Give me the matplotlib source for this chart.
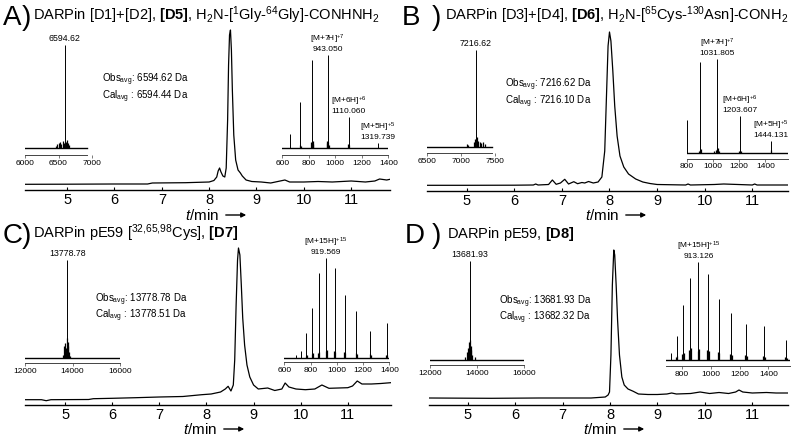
import matplotlib
matplotlib.use('Agg')
import matplotlib.pyplot as plt

plt.rcParams['font.family'] = ['Liberation Sans', 'DejaVu Sans']
plt.rcParams['mathtext.fontset'] = 'custom'
plt.rcParams['mathtext.rm'] = 'Liberation Sans'
plt.rcParams['mathtext.it'] = 'Liberation Sans:italic'
plt.rcParams['mathtext.bf'] = 'Liberation Sans:bold'

W, H = 800, 438

# ---- HPLC traces (retention time / min, signal in arbitrary units) ----
tA = [4.10, 5.0, 6.0, 6.7, 6.8, 7.5, 8.0, 8.10, 8.16, 8.19, 8.22, 8.25, 8.29, 8.33,
      8.36, 8.39, 8.41, 8.43, 8.45, 8.47, 8.49, 8.52, 8.56, 8.61, 8.66, 8.70, 8.78,
      8.90, 9.1, 9.3, 9.4, 9.6, 9.7, 10.0, 10.3, 10.6, 11.0, 11.3, 11.5, 11.6, 11.75, 11.85]
sA = [5.7, 5.8, 6.0, 6.0, 7.0, 7.3, 8.0, 9.5, 13, 19, 22, 18, 14, 13,
      22, 70, 125, 155, 160, 140, 100, 55, 30, 20, 17, 14, 10,
      8.5, 8, 7, 8, 10, 8, 8, 8.5, 8, 9, 8, 9, 11, 10, 11]

tB = [4.16, 5.0, 6.0, 6.40, 6.45, 6.5, 6.72, 6.80, 6.88, 6.97, 7.06, 7.14, 7.25, 7.33,
      7.42, 7.48, 7.56, 7.66, 7.76, 7.84, 7.90, 7.94, 7.97, 8.00, 8.03, 8.07, 8.11,
      8.16, 8.22, 8.30, 8.40, 8.55, 8.70, 8.85, 9.0, 9.6, 9.65, 9.7, 10.2, 10.4, 11.0,
      11.05, 11.1, 11.75]
sB = [5.7, 5.7, 5.8, 6, 7, 6, 6.5, 11, 6.7, 8, 11.7, 7, 9.3, 7.3,
      8.5, 8, 9.5, 8, 9, 14, 40, 100, 145, 159, 150, 120, 85,
      55, 35, 24, 17, 12, 9, 7.5, 6.5, 6, 7, 6, 6.5, 7, 6,
      7, 6, 6]

tC = [4.15, 4.5, 4.6, 4.7, 5.5, 5.6, 6.0, 6.5, 7.0, 7.5, 7.9, 8.1, 8.3, 8.40, 8.46,
      8.52, 8.57, 8.60, 8.63, 8.66, 8.68, 8.71, 8.74, 8.77, 8.81, 8.86, 8.92, 9.0,
      9.1, 9.3, 9.45, 9.6, 9.67, 9.75, 9.9, 10.1, 10.3, 10.45, 10.6, 10.8, 11.0, 11.1,
      11.2, 11.3, 11.5, 11.7, 11.91]
sC = [5.3, 5.3, 4.3, 5.3, 5.5, 6.3, 6.7, 7.3, 8, 8.5, 10.3, 11, 13, 16, 18.7,
      14, 20, 45, 100, 145, 157, 150, 120, 87, 60, 40, 28, 20,
      16, 17, 14.5, 16, 22, 18, 16, 15.3, 16, 20, 16.7, 17, 17.3, 19,
      24, 21, 21, 21.5, 22.3]

tD = [4.19, 5.0, 5.5, 6.5, 7.6, 7.9, 7.96, 7.99, 8.02, 8.05, 8.08, 8.10, 8.13, 8.16,
      8.20, 8.25, 8.30, 8.38, 8.49, 8.6, 8.8, 9.0, 9.2, 9.3, 9.4, 9.7, 9.9, 10.1,
      10.3, 10.5, 10.65, 10.72, 10.8, 11.0, 11.3, 11.5, 11.76]
sD = [7, 6.8, 6.7, 7, 7, 8, 10, 13, 50, 120, 155, 150, 120, 85,
      50, 28, 20, 16, 13.7, 11, 10.5, 10.5, 11, 12, 11, 11.5, 13, 11.5,
      12.5, 11.5, 13, 15, 13, 12, 12.5, 12, 12]

# ---- deconvoluted masses (Da, relative intensity) ----
decA_m = [6594.62]
decA_h = [1.0]
decA_mm = [6460, 6480, 6500, 6520, 6540, 6560, 6575, 6610, 6625, 6640, 6660]
decA_mh = [0.02, 0.04, 0.05, 0.06, 0.04, 0.07, 0.05, 0.06, 0.08, 0.05, 0.03]

decB_m = [7216.62]
decB_h = [1.0]
decB_mm = [7090, 7110, 7190, 7200, 7235, 7250, 7280, 7300, 7330, 7350]
decB_mh = [0.03, 0.02, 0.05, 0.08, 0.10, 0.06, 0.05, 0.04, 0.05, 0.03]

decC_m = [13778.78]
decC_h = [1.0]
decC_mm = [13600, 13650, 13690, 13720, 13750, 13800, 13830, 13860, 13900]
decC_mh = [0.03, 0.12, 0.15, 0.10, 0.20, 0.16, 0.12, 0.06, 0.02]

decD_m = [13681.93]
decD_h = [1.0]
decD_mm = [13500, 13560, 13600, 13640, 13700, 13730, 13760, 13800, 13900]
decD_mh = [0.03, 0.08, 0.12, 0.18, 0.20, 0.14, 0.10, 0.05, 0.03]

# ---- ESI-MS (m/z, relative intensity) ----
esiA_mz = [660.5, 733.7, 825.3, 943.05, 1100.1, 1319.74]
esiA_h = [0.155, 0.50, 0.95, 1.0, 0.33, 0.054]
esiA_mmz = [735, 740, 820, 828, 832, 935, 940, 948, 952, 1095, 1104]
esiA_mh = [0.03, 0.02, 0.06, 0.08, 0.04, 0.05, 0.08, 0.06, 0.03, 0.04, 0.03]
esiA_lab = [(943.05, '[M+7H]$^{+7}$\n943.050'),
            (1100.1, '[M+6H]$^{+6}$\n1110.060'),
            (1319.74, '[M+5H]$^{+5}$\n1319.739')]

esiB_mz = [802.8, 903.1, 1031.8, 1203.6, 1444.1]
esiB_h = [0.35, 0.97, 1.0, 0.39, 0.12]
esiB_mmz = [890, 898, 908, 1010, 1020, 1026, 1037, 1045, 1195, 1210, 1440]
esiB_mh = [0.02, 0.03, 0.04, 0.02, 0.03, 0.04, 0.05, 0.02, 0.02, 0.02, 0.03]
esiB_lab = [(1031.8, '[M+7H]$^{+7}$\n1031.805'),
            (1203.6, '[M+6H]$^{+6}$\n1203.607'),
            (1444.1, '[M+5H]$^{+5}$\n1444.131')]

esiC_mz = [690, 726.2, 766.5, 811.5, 862.2, 919.57, 985.2, 1060.9, 1149.2, 1253.6, 1378.9]
esiC_h = [0.03, 0.07, 0.25, 0.50, 0.85, 1.0, 0.90, 0.63, 0.47, 0.27, 0.35]
esiC_mmz = [764, 770, 808, 815, 858, 866, 915, 924, 981, 990, 1056, 1066, 1145, 1155,
            1250, 1258, 1374, 1384]
esiC_mh = [0.02, 0.03, 0.04, 0.05, 0.05, 0.06, 0.07, 0.08, 0.07, 0.06, 0.06, 0.05,
           0.05, 0.04, 0.04, 0.03, 0.03, 0.03]
esiC_lab = [(919.57, '[M+15H]$^{+15}$\n919.569')]

esiD_mz = [721.1, 761.1, 805.8, 856.1, 913.13, 978.3, 1053.5, 1141.2, 1244.8, 1369.2, 1521.2]
esiD_h = [0.075, 0.24, 0.56, 0.84, 1.0, 0.88, 0.62, 0.48, 0.37, 0.35, 0.20]
esiD_mmz = [757, 765, 800, 810, 850, 860, 907, 918, 972, 984, 1048, 1058, 1136, 1146,
            1240, 1250, 1364, 1374, 1516, 1526]
esiD_mh = [0.03, 0.04, 0.06, 0.07, 0.10, 0.12, 0.09, 0.11, 0.10, 0.09, 0.08, 0.07,
           0.06, 0.05, 0.05, 0.04, 0.04, 0.03, 0.03, 0.02]
esiD_lab = [(913.13, '[M+15H]$^{+15}$\n913.126')]

t_ticks = [5, 6, 7, 8, 9, 10, 11]


def box(x0, x1, ytop, ybot):
    return [x0 / W, 1 - ybot / H, (x1 - x0) / W, (ybot - ytop) / H]


def fy(y):
    return 1 - y / H


def chrom(fig, x0, x1, ytop, ybot, tlim, t, s):
    ax = fig.add_axes(box(x0, x1, ytop, ybot))
    ax.plot(t, s, color='k', lw=0.9)
    ax.set_xlim(tlim)
    ax.set_ylim(0, ybot - ytop)
    for sp in ['top', 'right', 'left']:
        ax.spines[sp].set_visible(False)
    ax.spines['bottom'].set_linewidth(1.0)
    ax.set_yticks([])
    ax.set_xticks(t_ticks)
    ax.tick_params(axis='x', direction='in', length=2, labelsize=10.5, pad=2.5)
    ax.patch.set_alpha(0)
    return ax


def spectrum(fig, x0, x1, ytop, ybase, yaxis, xlim, bound, ticks,
             mz, h, mmz, mh, labels=None, lab_size=6):
    ax = fig.add_axes(box(x0, x1, ytop, yaxis))
    b = (yaxis - ybase) / (ybase - ytop)
    ax.set_ylim(-b, 1)
    ax.set_xlim(xlim)
    ax.vlines(mz, 0, h, color='k', lw=0.7)
    ax.vlines(mmz, 0, mh, color='k', lw=0.9)
    ax.plot(bound, [0, 0], color='k', lw=1.0)
    for sp in ['top', 'right', 'left']:
        ax.spines[sp].set_visible(False)
    ax.spines['bottom'].set_bounds(*bound)
    ax.spines['bottom'].set_color('#444444')
    ax.spines['bottom'].set_linewidth(0.7)
    ax.set_yticks([])
    ax.set_xticks(ticks)
    ax.tick_params(axis='x', length=2, width=0.5, pad=1.5, labelsize=6,
                   color='#444444')
    ax.patch.set_alpha(0)
    if labels:
        hmap = dict(zip(mz, h))
        for x, txt in labels:
            ax.annotate(txt, (x, hmap[x]), xytext=(0, 1.5), textcoords='offset points',
                        ha='center', va='bottom', fontsize=lab_size, linespacing=1.0,
                        multialignment='center', annotation_clip=False)
    return ax


def peak_label(ax, m, txt):
    ax.annotate(txt, (m, 1.0), xytext=(0, 1.5), textcoords='offset points',
                ha='center', va='bottom', fontsize=6.3, annotation_clip=False)


def xlabel(fig, xr, y):
    fig.text(xr / W, fy(y), '$t$/min', ha='right', va='center', fontsize=11)
    fig.patches.append(matplotlib.patches.FancyArrowPatch(
        ((xr + 4) / W, fy(y)), ((xr + 30) / W, fy(y)), transform=fig.transFigure,
        arrowstyle='-|>', mutation_scale=7, lw=1.0, color='k'))


def title(fig, xl, xp, xt, yl, yt, letter, txt):
    fig.text(xl / W, fy(yl), letter, fontsize=20, va='baseline')
    fig.text(xp / W, fy(yl), ')', fontsize=20, va='baseline')
    fig.text(xt / W, fy(yt), txt, fontsize=10.5, va='baseline')


def obs_cal(fig, x, y_mid, obs, cal):
    # both lines in one text block
    txt = ('Obs$_{\\mathrm{avg}}$: ' + obs + ' Da\n'
           'Cal$_{\\mathrm{avg}}$ : ' + cal + ' Da')
    fig.text(x / W, fy(y_mid), txt, fontsize=7, va='center', linespacing=1.0)


fig = plt.figure(figsize=(W / 100, H / 100), dpi=100)

# Panel A
chrom(fig, 25, 390, 28, 190, (4.11, 11.82), tA, sA)
ax = spectrum(fig, 25, 92, 45, 148, 155, (6000, 7000), (6000, 6930), [6000, 6500, 7000],
              decA_m, decA_h, decA_mm, decA_mh)
peak_label(ax, 6594.62, '6594.62')
spectrum(fig, 282.3, 388.3, 55.3, 148, 155, (600, 1400), (600, 1400),
         [600, 800, 1000, 1200, 1400], esiA_mz, esiA_h, esiA_mmz, esiA_mh, esiA_lab)
obs_cal(fig, 101.7, 88.5, '6594.62', '6594.44')
xlabel(fig, 219, 215)
title(fig, 3, 22, 33, 25, 19.5, 'A',
      'DARPin [D1]+[D2], $\\mathbf{[D5]}$, H$_2$N-[$^1$Gly-$^{64}$Gly]-CONHNH$_2$')

# Panel B
chrom(fig, 426.7, 788, 29, 191, (4.16, 11.75), tB, sB)
ax = spectrum(fig, 427, 495, 50, 147, 153, (6500, 7500), (6500, 7460), [6500, 7000, 7500],
              decB_m, decB_h, decB_mm, decB_mh)
peak_label(ax, 7216.62, '7216.62')
spectrum(fig, 686.7, 788.3, 59.3, 152.7, 158.5, (798, 1575), (798, 1575),
         [800, 1000, 1200, 1400], esiB_mz, esiB_h, esiB_mmz, esiB_mh, esiB_lab)
obs_cal(fig, 505, 93.5, '7216.62', '7216.10')
xlabel(fig, 619, 215)
title(fig, 402, 432, 445, 25, 20, 'B',
      'DARPin [D3]+[D4], $\\mathbf{[D6]}$, H$_2$N-[$^{65}$Cys-$^{130}$Asn]-CONH$_2$')

# Panel C
chrom(fig, 25, 390.7, 243, 405, (4.15, 11.91), tC, sC)
ax = spectrum(fig, 25, 120, 260, 358, 363, (12000, 16000), (12000, 16000),
              [12000, 14000, 16000], decC_m, decC_h, decC_mm, decC_mh)
peak_label(ax, 13778.78, '13778.78')
spectrum(fig, 284.3, 389.3, 258, 358, 362, (600, 1400), (600, 1400),
         [600, 800, 1000, 1200, 1400], esiC_mz, esiC_h, esiC_mmz, esiC_mh, esiC_lab)
obs_cal(fig, 95, 307.5, '13778.78', '13778.51')
xlabel(fig, 217, 429)
title(fig, 3, 22, 33, 243, 237.5, 'C',
      'DARPin pE59 [$^{32{,}65{,}98}$Cys], $\\mathbf{[D7]}$')

# Panel D
chrom(fig, 429.3, 788.3, 243, 405, (4.19, 11.76), tD, sD)
ax = spectrum(fig, 430, 524, 260.7, 359.7, 365, (12000, 16000), (12000, 16000),
              [12000, 14000, 16000], decD_m, decD_h, decD_mm, decD_mh)
peak_label(ax, 13681.93, '13681.93')
spectrum(fig, 666, 790, 262, 360, 366, (688, 1550), (688, 1550),
         [800, 1000, 1200, 1400], esiD_mz, esiD_h, esiD_mmz, esiD_mh, esiD_lab)
obs_cal(fig, 499.3, 310, '13681.93', '13682.32')
xlabel(fig, 617, 429)
title(fig, 405, 432, 446.7, 243, 238, 'D', 'DARPin pE59, $\\mathbf{[D8]}$')

fig.savefig('out.png', dpi=100)
